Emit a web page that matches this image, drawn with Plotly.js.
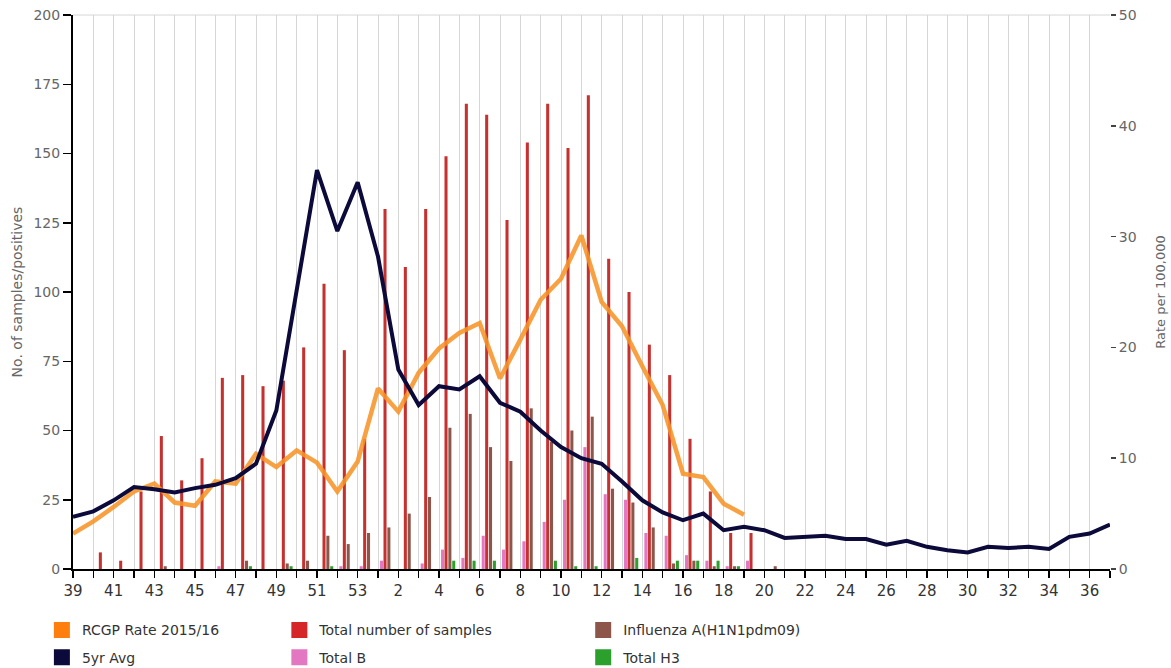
<!DOCTYPE html>
<html>
<head>
<meta charset="utf-8">
<script src="https://cdn.plot.ly/plotly-3.0.1.min.js"></script>
<style>
html,body{margin:0;padding:0;background:#fff;}
#chart{width:1171px;height:668px;}
</style>
</head>
<body>
<div id="chart"></div>
<script>
// ISO weeks of the 2015/16 season
var weeks = [39,40,41,42,43,44,45,46,47,48,49,50,51,52,53,
  1,2,3,4,5,6,7,8,9,10,11,12,13,14,15,16,17,18,19,20,
  21,22,23,24,25,26,27,28,29,30,31,32,33,34,35,36,37];

// RCGP consultation rate 2015/16 (per 100,000), weeks 39..19
var rcgpRate = [3.2,4.3,5.6,7.0,7.7,6.0,5.7,7.9,7.7,10.4,9.2,10.7,9.6,7.0,9.7,
  16.3,14.2,17.7,19.9,21.3,22.2,17.2,20.7,24.3,26.2,30.1,24.1,21.9,18.3,14.8,8.6,8.3,5.9,4.9];

// 5 year average rate (per 100,000)
var fiveYrAvg = [4.7,5.2,6.2,7.4,7.2,6.9,7.3,7.6,8.2,9.5,14.3,25.0,36.0,30.5,34.9,
  28.2,18.0,14.8,16.5,16.2,17.4,15.0,14.2,12.5,11.0,10.0,9.5,7.9,6.2,5.1,4.4,5.0,3.5,3.8,3.5,
  2.8,2.9,3.0,2.7,2.7,2.2,2.55,2.0,1.7,1.5,2.0,1.9,2.0,1.8,2.9,3.2,4.0];

// Counts (left axis)
var totalSamples = [0,6,3,28,48,32,40,69,70,66,68,80,103,79,47,
  130,109,130,149,168,164,126,154,168,152,171,112,100,81,70,47,28,13,13];
var fluA_H1N1 = [0,0,0,0,1,0,0,0,3,0,2,3,12,9,13,
  15,20,26,51,56,44,39,58,46,50,55,29,24,15,2,3,1,1,0,1];
var totalB = [0,0,0,0,0,0,0,1,0,0,0,0,0,1,1,
  3,0,2,7,4,12,7,10,17,25,44,27,25,13,12,5,3,1,3];
var totalH3 = [0,0,0,0,0,0,0,0,1,0,1,0,1,0,0,
  0,0,0,3,3,3,0,0,3,1,1,0,4,0,3,3,3,1,0];

var idx = weeks.map(function(w,i){return i;});
var tickIdx = idx.filter(function(i){return i%2===0;});
var tickTxt = tickIdx.map(function(i){return String(weeks[i]);});

var C = {
  rcgp:'#ff7f0e', avg:'#0b0a3a', samples:'#d62728', samplesBar:'#c4312e',
  h1:'#8c564b', b:'#e377c2', h3:'#2ca02c'
};

function barTrace(name, vals, color, off){
  return {
    type:'bar', name:name, x:idx.slice(0, vals.length), y:vals,
    offset:off, width:0.15,
    marker:{color:color, line:{width:0}},
    showlegend:false, hoverinfo:'skip'
  };
}
// legend-only swatch (no data drawn)
function swatch(name, color, legendId, grp, rank){
  return {type:'bar', name:name, x:[null], y:[null],
    marker:{color:color, line:{color:color, width:4}},
    legend:legendId, legendgroup:grp, legendrank:rank, hoverinfo:'skip'};
}

var traces = [
  barTrace('Total B', totalB, C.b, 0.10),
  barTrace('Total number of samples', totalSamples, C.samplesBar, 0.27),
  barTrace('Influenza A(H1N1pdm09)', fluA_H1N1, C.h1, 0.46),
  barTrace('Total H3', totalH3, C.h3, 0.65),
  {
    type:'scatter', mode:'lines', name:'RCGP Rate 2015/16',
    x:idx.slice(0, rcgpRate.length), y:rcgpRate, yaxis:'y2',
    line:{color:'rgba(247,148,40,0.88)', width:4.5}, showlegend:false, hoverinfo:'skip'
  },
  {
    type:'scatter', mode:'lines', name:'5yr Avg',
    x:idx, y:fiveYrAvg, yaxis:'y2',
    line:{color:C.avg, width:4}, showlegend:false, hoverinfo:'skip'
  },
  swatch('RCGP Rate 2015/16', C.rcgp, 'legend', 'g1', 1),
  swatch('5yr Avg', C.avg, 'legend', 'g4', 2),
  swatch('Total number of samples', C.samples, 'legend2', 'g2', 1),
  swatch('Total B', C.b, 'legend2', 'g5', 2),
  swatch('Influenza A(H1N1pdm09)', C.h1, 'legend3', 'g3', 1),
  swatch('Total H3', C.h3, 'legend3', 'g6', 2)
];

var fontFam = '"DejaVu Sans", "Liberation Sans", Arial, sans-serif';
var legBase = {
  orientation:'v', yanchor:'top', xanchor:'left', y:-0.082,
  font:{family:fontFam, size:14, color:'#333'},
  tracegroupgap:6, itemwidth:30, bgcolor:'rgba(0,0,0,0)', traceorder:'grouped'
};
function leg(x){ var o = JSON.parse(JSON.stringify(legBase)); o.x = x; return o; }

var layout = {
  width:1171, height:668,
  margin:{l:73, r:61, t:15, b:99, autoexpand:false},
  paper_bgcolor:'#fff', plot_bgcolor:'#fff',
  font:{family:fontFam, color:'#555'},
  barmode:'overlay',
  showlegend:true,
  legend:leg(-0.030), legend2:leg(0.199), legend3:leg(0.492),
  xaxis:{
    range:[0, weeks.length-1], tickmode:'array', tickvals:tickIdx, ticktext:tickTxt,
    ticks:'outside', ticklen:7, tickwidth:1.5, tickcolor:'#000',
    showline:true, linecolor:'#000', linewidth:1.5,
    showgrid:true, gridcolor:'#d6d6d6', gridwidth:1, zeroline:false,
    minor:{dtick:1, tick0:0, ticks:'outside', ticklen:7, tickwidth:1.5, tickcolor:'#000',
           showgrid:true, gridcolor:'#d6d6d6', gridwidth:1},
    tickfont:{family:fontFam, size:15, color:'#333'}, fixedrange:true, automargin:false
  },
  yaxis:{
    range:[0,200], dtick:25, tick0:0,
    ticks:'outside', ticklen:8, tickwidth:1.5, tickcolor:'#000',
    showline:true, linecolor:'#000', linewidth:2,
    showgrid:false, zeroline:false,
    tickfont:{family:fontFam, size:14, color:'#666'},
    title:{text:'No. of samples/positives', font:{family:fontFam, size:14, color:'#666'}, standoff:8},
    fixedrange:true, automargin:false
  },
  yaxis2:{
    overlaying:'y', side:'right', range:[0,50], dtick:10, tick0:0,
    ticks:'outside', ticklen:5, tickwidth:1.5, tickcolor:'#444',
    showline:false, showgrid:false, zeroline:false,
    tickfont:{family:fontFam, size:14, color:'#666'},
    title:{text:'Rate per 100,000', font:{family:fontFam, size:13, color:'#666'}, standoff:20},
    fixedrange:true, automargin:false
  },
  shapes:[{type:'line', xref:'paper', yref:'paper', x0:0, x1:1, y0:1, y1:1,
           line:{color:'#d6d6d6', width:1}}]
};

Plotly.newPlot('chart', traces, layout, {displayModeBar:false, staticPlot:true});
</script>
</body>
</html>
